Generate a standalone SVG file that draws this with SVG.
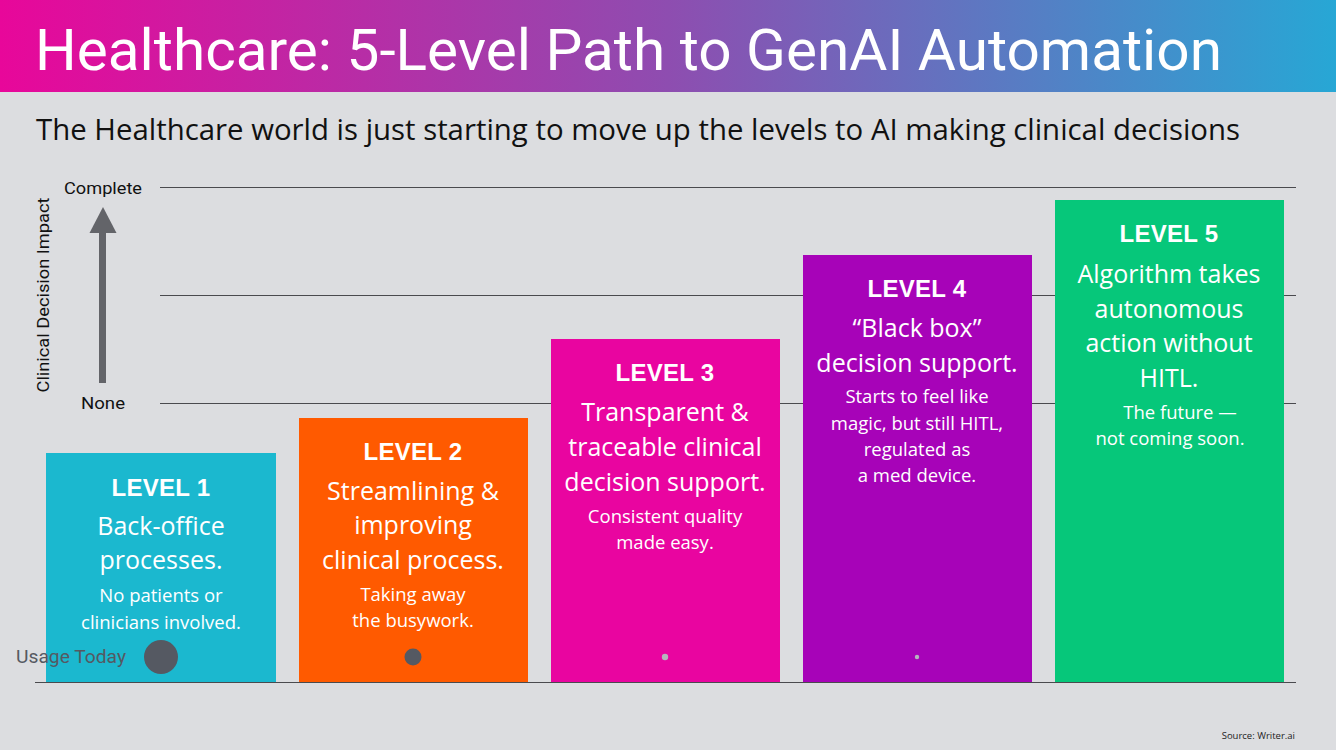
<svg xmlns="http://www.w3.org/2000/svg" width="1336" height="750" viewBox="0 0 1336 750">
<defs>
<linearGradient id="hdr" x1="0" y1="0" x2="1" y2="0">
<stop offset="0" stop-color="#e8079a"/>
<stop offset="0.5" stop-color="#8e4db0"/>
<stop offset="1" stop-color="#27a7d5"/>
</linearGradient>
<style>
.lvl{font-family:"Liberation Sans",Arial,sans-serif;font-weight:900;font-size:24px;fill:#fff;text-anchor:middle;letter-spacing:0.3px}
.main{font-family:"Open Sans","Noto Sans",sans-serif;font-size:25px;fill:#fff;text-anchor:middle}
.small{font-family:"Open Sans","Noto Sans",sans-serif;font-size:18.5px;fill:#fff;text-anchor:middle}
.axis{font-family:Roboto,"Noto Sans",sans-serif;font-size:17px;fill:#111}
.grid{stroke:#4a4a4e;stroke-width:1.2}
.dot{fill:#555962}
.dotl{fill:#b5b5bd}
</style>
</defs>
<rect width="1336" height="750" fill="#dcdde0"/>
<g id="header">
<rect width="1336" height="92" fill="url(#hdr)"/>
<text x="35" y="70" font-family="Roboto,'Noto Sans',sans-serif" font-size="58" fill="#fff" textLength="1187" lengthAdjust="spacingAndGlyphs">Healthcare: 5-Level Path to GenAI Automation</text>
</g>
<text id="subtitle" x="36" y="140" font-family="'Open Sans','Noto Sans',sans-serif" font-size="29" fill="#111" textLength="1204" lengthAdjust="spacingAndGlyphs">The Healthcare world is just starting to move up the levels to AI making clinical decisions</text>
<g id="gridlines">
<line class="grid" x1="160" y1="187.5" x2="1296" y2="187.5"/>
<line class="grid" x1="160" y1="295.5" x2="1296" y2="295.5"/>
<line class="grid" x1="160" y1="403.5" x2="1296" y2="403.5"/>
<line class="grid" x1="35" y1="682.5" x2="1296" y2="682.5"/>
</g>
<g id="axis">
<text class="axis" x="103" y="194" text-anchor="middle" textLength="78" lengthAdjust="spacingAndGlyphs">Complete</text>
<text class="axis" x="103" y="409" text-anchor="middle" textLength="44" lengthAdjust="spacingAndGlyphs">None</text>
<text class="axis" transform="translate(49,295) rotate(-90)" text-anchor="middle" textLength="195" lengthAdjust="spacingAndGlyphs">Clinical Decision Impact</text>
</g>
<g id="connectors">
<rect x="99" y="230" width="7" height="153" fill="#636469"/>
<polygon points="89.5,233 116.5,233 103,207" fill="#636469"/>
</g>
<g id="level1">
<rect x="46" y="453" width="230" height="229" fill="#1bb8cf"/>
<text class="lvl" x="161" y="496">LEVEL 1</text>
<text class="main" x="161" y="535">Back-office</text>
<text class="main" x="161" y="569">processes.</text>
<text class="small" x="161" y="602">No patients or</text>
<text class="small" x="161" y="629">clinicians involved.</text>
<circle class="dot" cx="161" cy="657" r="17"/>
</g>
<g id="level2">
<rect x="299" y="418" width="229" height="264" fill="#ff5a00"/>
<text class="lvl" x="413" y="460">LEVEL 2</text>
<text class="main" x="413" y="500">Streamlining &amp;</text>
<text class="main" x="413" y="534">improving</text>
<text class="main" x="413" y="569">clinical process.</text>
<text class="small" x="413" y="601">Taking away</text>
<text class="small" x="413" y="627">the busywork.</text>
<circle class="dot" cx="413" cy="657" r="8.5"/>
</g>
<g id="level3">
<rect x="551" y="339" width="229" height="343" fill="#e905a0"/>
<text class="lvl" x="665" y="381">LEVEL 3</text>
<text class="main" x="665" y="421">Transparent &amp;</text>
<text class="main" x="665" y="456">traceable clinical</text>
<text class="main" x="665" y="491">decision support.</text>
<text class="small" x="665" y="523">Consistent quality</text>
<text class="small" x="665" y="549">made easy.</text>
<circle class="dotl" cx="665" cy="657" r="3.2"/>
</g>
<g id="level4">
<rect x="803" y="255" width="229" height="427" fill="#a703b8"/>
<text class="lvl" x="917" y="297">LEVEL 4</text>
<text class="main" x="917" y="337">“Black box”</text>
<text class="main" x="917" y="372">decision support.</text>
<text class="small" x="917" y="403">Starts to feel like</text>
<text class="small" x="917" y="430">magic, but still HITL,</text>
<text class="small" x="917" y="456">regulated as</text>
<text class="small" x="917" y="482">a med device.</text>
<circle class="dotl" cx="917" cy="657" r="2.2"/>
</g>
<g id="level5">
<rect x="1055" y="200" width="229" height="482" fill="#06c77a"/>
<text class="lvl" x="1169" y="242">LEVEL 5</text>
<text class="main" x="1169" y="283">Algorithm takes</text>
<text class="main" x="1169" y="318">autonomous</text>
<text class="main" x="1169" y="352">action without</text>
<text class="main" x="1169" y="387">HITL.</text>
<text class="small" x="1180" y="419">The future —</text>
<text class="small" x="1170" y="445">not coming soon.</text>
</g>
<text id="usage" x="16" y="663" font-family="Roboto,'Noto Sans',sans-serif" font-size="18" fill="#555962" textLength="110" lengthAdjust="spacingAndGlyphs">Usage Today</text>
<text id="source" x="1295" y="739" text-anchor="end" font-family="'Open Sans','Noto Sans',sans-serif" font-size="9.5" fill="#222">Source: Writer.ai</text>
</svg>
